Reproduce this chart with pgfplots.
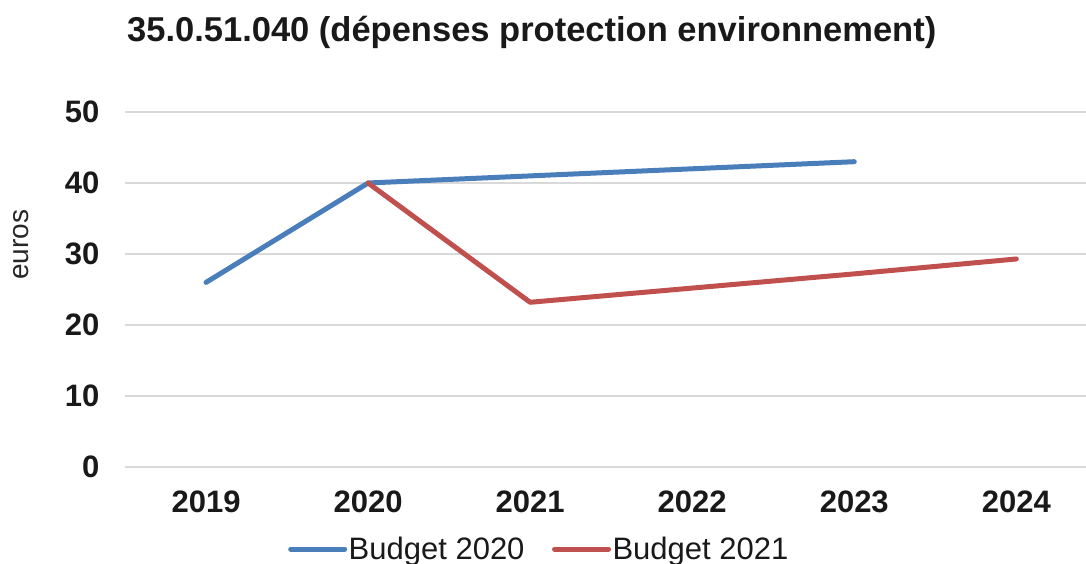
\documentclass[border=0pt]{standalone}
\usepackage{pgfplots}
\pgfplotsset{compat=1.18}
\usepackage{fontspec}
\setmainfont{Liberation Sans}
\definecolor{bblue}{HTML}{4A7EBB}
\definecolor{bred}{HTML}{C0504D}
\definecolor{gridgray}{HTML}{D9D9D9}
\begin{document}
\begin{tikzpicture}[x=1pt,y=1pt]
\useasboundingbox (0,0) rectangle (1086,564);
\begin{axis}[
  at={(125pt,97pt)}, anchor=south west,
  scale only axis, width=961pt, height=355pt,
  xmin=2018.5, xmax=2024.43, ymin=0, ymax=50,
  axis line style={draw=none},
  major tick length=0pt,
  ytick={0,10,...,50},
  xtick={2019,2020,2021,2022,2023,2024},
  xticklabels={2019,2020,2021,2022,2023,2024},
  ymajorgrids, grid style={gridgray, line width=2pt},
  /pgf/number format/assume math mode=true,
  ticklabel style={font=\fontsize{31}{33}\selectfont\bfseries, text=black!90},
  yticklabel style={xshift=-22pt},
  xticklabel style={yshift=-20pt},
  clip=false,
  legend columns=2,
  legend style={draw=none, fill=none, at={(0.1665,0)}, anchor=west, yshift=-82pt,
    font=\fontsize{31}{33}\selectfont, text=black!90,
    /tikz/every even column/.append style={column sep=26pt},
    nodes={inner sep=1.5pt}},
  legend image code/.code={\draw[#1, line width=5pt, line cap=round] (0pt,0pt) -- (54pt,0pt);},
]
\addplot[bblue, line width=5pt, line cap=round, line join=round] coordinates {
 (2019,26) (2020,40) (2021,41) (2022,42) (2023,43)};
\addlegendentry{Budget 2020}
\addplot[bred, line width=5pt, line cap=round, line join=round] coordinates {
 (2020,40) (2021,23.2) (2022,25.2) (2023,27.2) (2024,29.3)};
\addlegendentry{Budget 2021}
\node[anchor=base west, font=\fontsize{34.5}{38}\selectfont\bfseries, text=black!90, inner sep=0pt]
  at ([xshift=2pt, yshift=70pt]rel axis cs:0,1) {35.0.51.040 (dépenses protection environnement)};
\node[rotate=90, font=\fontsize{28}{30}\selectfont, text=black!85, inner sep=0pt]
  at ([xshift=-104pt]rel axis cs:0,0.626) {euros};
\end{axis}
\end{tikzpicture}
\end{document}
